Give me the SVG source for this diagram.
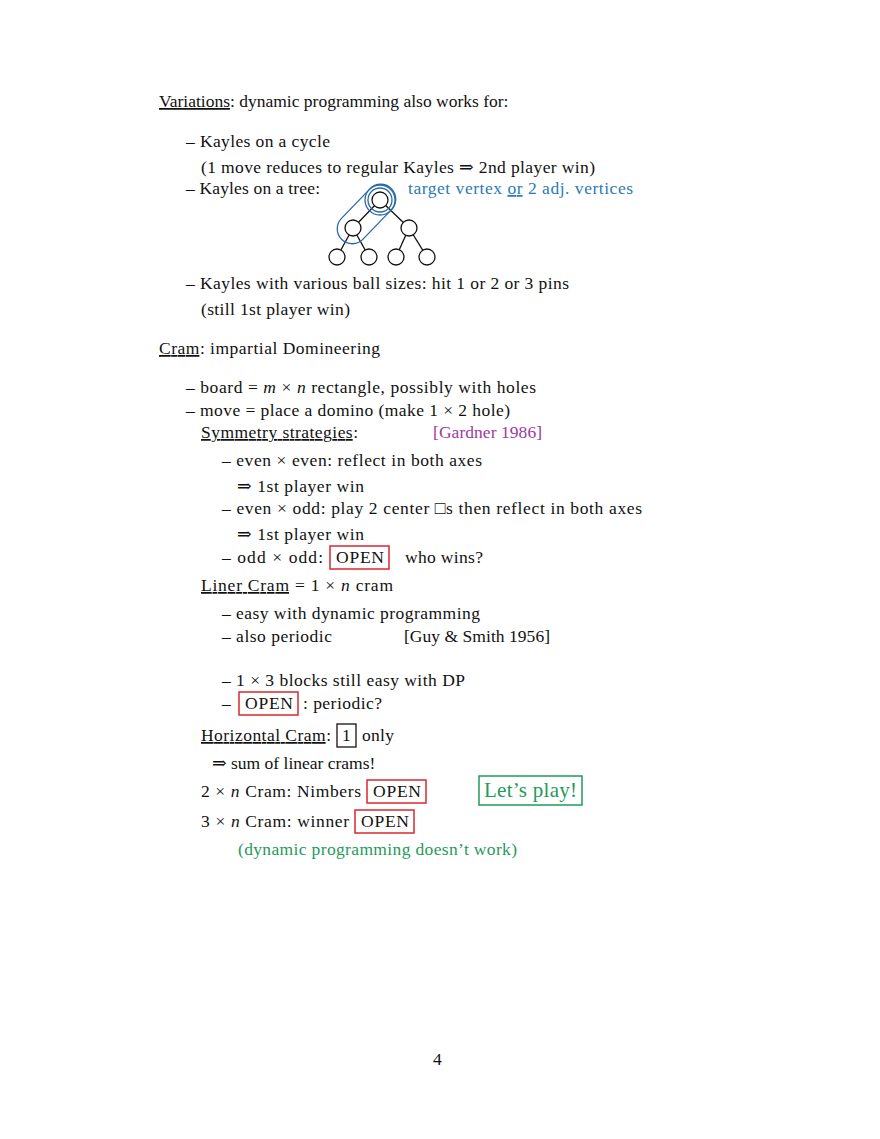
<svg xmlns="http://www.w3.org/2000/svg" width="880" height="1139" viewBox="0 0 880 1139">
<style>
text{font-family:"Liberation Serif","DejaVu Serif",serif;font-size:17.5px;fill:#111}
.u{text-decoration:underline}
.b{fill:#2a7ab8}.m{fill:#a03aa0}.g{fill:#1f9a5a}
.red{fill:none;stroke:#d8282e;stroke-width:1.5}
.n{fill:#fff;stroke:#111;stroke-width:1.3}
.e{stroke:#111;stroke-width:1.3}
.blue{fill:none;stroke:#2a6aa8;stroke-width:1.3}
</style>
<rect width="880" height="1139" fill="#fff"/>
<text x="159" y="107"><tspan class="u">Variations</tspan>: dynamic programming also works for:</text>
<text x="186" y="147" textLength="144">– Kayles on a cycle</text>
<text x="201" y="173" textLength="394">(1 move reduces to regular Kayles ⇒ 2nd player win)</text>
<text x="186" y="194" textLength="134">– Kayles on a tree:</text>
<text x="408" y="194" class="b" textLength="225">target vertex <tspan class="u">or</tspan> 2 adj. vertices</text>
<g id="tree">
<line class="e" x1="380" y1="200" x2="353" y2="228"/><line class="e" x1="380" y1="200" x2="409" y2="228"/>
<line class="e" x1="353" y1="228" x2="337" y2="257"/><line class="e" x1="353" y1="228" x2="369" y2="257"/>
<line class="e" x1="409" y1="228" x2="396" y2="257"/><line class="e" x1="409" y1="228" x2="427" y2="257"/>
<circle class="n" cx="380" cy="200" r="8"/><circle class="n" cx="353" cy="228" r="8"/><circle class="n" cx="409" cy="228" r="8"/>
<circle class="n" cx="337" cy="257" r="8"/><circle class="n" cx="369" cy="257" r="8"/><circle class="n" cx="396" cy="257" r="8"/><circle class="n" cx="427" cy="257" r="8"/>
<circle class="blue" cx="380" cy="200" r="12"/><circle class="blue" cx="380" cy="200" r="15"/>
<rect class="blue" x="331" y="199" width="71" height="30" rx="15" transform="rotate(-46 366.5 214)"/>
</g>
<text x="186" y="289" textLength="383">– Kayles with various ball sizes: hit 1 or 2 or 3 pins</text>
<text x="201" y="315" textLength="149">(still 1st player win)</text>
<text x="159" y="354" textLength="221"><tspan class="u">Cram</tspan>: impartial Domineering</text>
<text x="186" y="393" textLength="350">– board = <tspan font-style="italic">m</tspan> × <tspan font-style="italic">n</tspan> rectangle, possibly with holes</text>
<text x="186" y="416" textLength="324">– move = place a domino (make 1 × 2 hole)</text>
<text x="201" y="438" textLength="157"><tspan class="u">Symmetry strategies</tspan>:</text>
<text x="433" y="438" class="m" textLength="109">[Gardner 1986]</text>
<text x="222" y="466" textLength="260">– even × even: reflect in both axes</text>
<text x="237" y="492" textLength="127">⇒ 1st player win</text>
<text x="222" y="514" textLength="420">– even × odd: play 2 center □s then reflect in both axes</text>
<text x="237" y="540" textLength="127">⇒ 1st player win</text>
<text x="222" y="563" textLength="101">– odd × odd:</text>
<rect class="red" x="330" y="546" width="59" height="23"/>
<text x="336" y="563" textLength="48">OPEN</text>
<text x="405" y="563" textLength="78">who wins?</text>
<text x="201" y="591" textLength="192"><tspan class="u">Liner Cram</tspan> = 1 × <tspan font-style="italic">n</tspan> cram</text>
<text x="222" y="619" textLength="258">– easy with dynamic programming</text>
<text x="222" y="642" textLength="110">– also periodic</text>
<text x="404" y="642" textLength="146">[Guy &amp; Smith 1956]</text>
<text x="222" y="686" textLength="243">– 1 × 3 blocks still easy with DP</text>
<text x="222" y="709">– </text>
<rect class="red" x="239" y="692" width="59" height="23"/>
<text x="245" y="709" textLength="48">OPEN</text>
<text x="303" y="709" textLength="79">: periodic?</text>
<text x="201" y="741" textLength="130"><tspan class="u">Horizontal Cram</tspan>:</text>
<rect x="337" y="724" width="19" height="23" fill="none" stroke="#111" stroke-width="1.3"/>
<text x="342" y="741">1</text>
<text x="362" y="741" textLength="32">only</text>
<text x="212" y="769">⇒ sum of linear crams!</text>
<text x="201" y="797" textLength="160">2 × <tspan font-style="italic">n</tspan> Cram: Nimbers</text>
<rect class="red" x="367" y="780" width="59" height="23"/>
<text x="373" y="797" textLength="48">OPEN</text>
<rect x="479" y="776" width="103" height="29" fill="none" stroke="#1f9a5a" stroke-width="1.5"/>
<text x="484" y="797" class="g" style="font-size:21px" textLength="93">Let’s play!</text>
<text x="201" y="827" textLength="148">3 × <tspan font-style="italic">n</tspan> Cram: winner</text>
<rect class="red" x="355" y="810" width="59" height="23"/>
<text x="361" y="827" textLength="48">OPEN</text>
<text x="238" y="855" class="g" textLength="279">(dynamic programming doesn’t work)</text>
<text x="433" y="1065">4</text>
</svg>
